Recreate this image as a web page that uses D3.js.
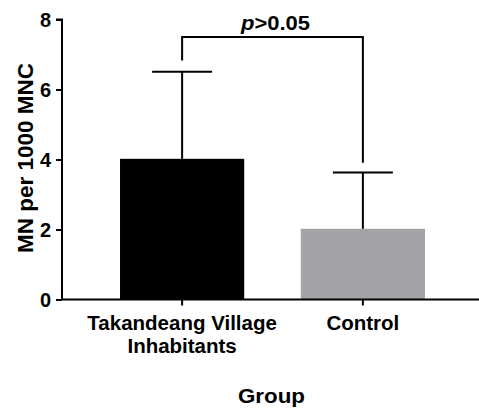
<!DOCTYPE html>
<html>
<head>
<meta charset="utf-8">
<script src="https://cdn.jsdelivr.net/npm/d3@7"></script>
<style>
  html, body { margin: 0; padding: 0; background: #fff; }
  svg { display: block; font-family: "Liberation Sans", Arial, sans-serif; }
</style>
</head>
<body>
<svg id="chart" width="479" height="409"></svg>
<script>
// Group labels (each line of a label is its own entry)
const groups = ["Takandeang Village Inhabitants", "Control"];
const groupLines = [["Takandeang Village", "Inhabitants"], ["Control"]];
// Mean MN per 1000 MNC and upper error (SD)
const means = [4.02, 2.02];
const errors = [2.49, 1.61];
const barColors = ["#000000", "#a3a2a7"];
const yTicks = [0, 2, 4, 6, 8];
// Significance bracket: height and leg ends (in data units)
const bracketLevel = 7.5;
const bracketLegEnds = [6.83, 3.91];
const pLabel = ["p", ">0.05"];

const svg = d3.select("#chart");
const plotLeft = 62, plotBottom = 299.5, plotTop = 19.5;

const y = d3.scaleLinear().domain([0, 8]).range([plotBottom, plotTop]);
const x = d3.scaleBand().domain(groups).range([plotLeft, 483])
  .paddingInner(0.313).paddingOuter(0.321);

const ink = "#000";

// Bars
svg.selectAll("rect.bar").data(groups).enter().append("rect")
  .attr("class", "bar")
  .attr("x", d => x(d))
  .attr("width", x.bandwidth())
  .attr("y", (d, i) => y(means[i]))
  .attr("height", (d, i) => y(0) - y(means[i]))
  .attr("fill", (d, i) => barColors[i]);

// Error bars (upper only)
const cap = 60;
groups.forEach((g, i) => {
  const cx = x(g) + x.bandwidth() / 2;
  svg.append("line").attr("x1", cx).attr("x2", cx)
    .attr("y1", y(means[i])).attr("y2", y(means[i] + errors[i]))
    .attr("stroke", ink).attr("stroke-width", 2);
  svg.append("line").attr("x1", cx - cap / 2).attr("x2", cx + cap / 2)
    .attr("y1", y(means[i] + errors[i])).attr("y2", y(means[i] + errors[i]))
    .attr("stroke", ink).attr("stroke-width", 2);
});

// Y axis
const yAxis = svg.append("g").attr("transform", `translate(${plotLeft},0)`)
  .call(d3.axisLeft(y).tickValues(yTicks).tickSize(6).tickPadding(5).tickFormat(d3.format("d")));
yAxis.select(".domain").attr("stroke", ink).attr("stroke-width", 2)
  .attr("d", `M-6,${y(8)}H0V${y(0)}`);
yAxis.selectAll(".tick line").attr("stroke", ink).attr("stroke-width", 2);
yAxis.selectAll(".tick text").attr("fill", ink)
  .style("font-size", "20px").style("font-weight", "bold").attr("dy", "0.36em");

// X axis
const xAxis = svg.append("g").attr("transform", `translate(0,${plotBottom})`)
  .call(d3.axisBottom(x).tickSize(6).tickFormat(""));
xAxis.select(".domain").attr("stroke", ink).attr("stroke-width", 2)
  .attr("d", `M${plotLeft},0H483`);
xAxis.selectAll(".tick line").attr("stroke", ink).attr("stroke-width", 2);

// Multi-line group labels
groups.forEach((g, i) => {
  const cx = x(g) + x.bandwidth() / 2;
  const t = svg.append("text").attr("x", cx).attr("y", 330)
    .attr("text-anchor", "middle").attr("fill", ink)
    .style("font-size", "20.5px").style("font-weight", "bold");
  groupLines[i].forEach((line, k) => {
    t.append("tspan").attr("x", cx).attr("dy", k === 0 ? 0 : 23).text(line);
  });
});

// Axis titles
svg.append("text").attr("x", 271.5).attr("y", 403)
  .attr("text-anchor", "middle").attr("fill", ink)
  .attr("textLength", 67).attr("lengthAdjust", "spacingAndGlyphs")
  .style("font-size", "21px").style("font-weight", "bold").text("Group");

svg.append("text")
  .attr("transform", `translate(32.5,158) rotate(-90)`)
  .attr("text-anchor", "middle").attr("fill", ink)
  .attr("textLength", 190).attr("lengthAdjust", "spacingAndGlyphs")
  .style("font-size", "22px").style("font-weight", "bold").text("MN per 1000 MNC");

// Significance bracket
const c0 = x(groups[0]) + x.bandwidth() / 2;
const c1 = x(groups[1]) + x.bandwidth() / 2;
svg.append("path")
  .attr("d", `M${c0},${y(bracketLegEnds[0])}V${y(bracketLevel)}H${c1}V${y(bracketLegEnds[1])}`)
  .attr("fill", "none").attr("stroke", ink).attr("stroke-width", 2);

const pt = svg.append("text").attr("x", 241).attr("y", 30)
  .attr("text-anchor", "start").attr("fill", ink)
  .attr("textLength", 69).attr("lengthAdjust", "spacingAndGlyphs")
  .style("font-size", "20px").style("font-weight", "bold");
pt.append("tspan").style("font-style", "italic").text(pLabel[0]);
pt.append("tspan").text(pLabel[1]);
</script>
</body>
</html>
